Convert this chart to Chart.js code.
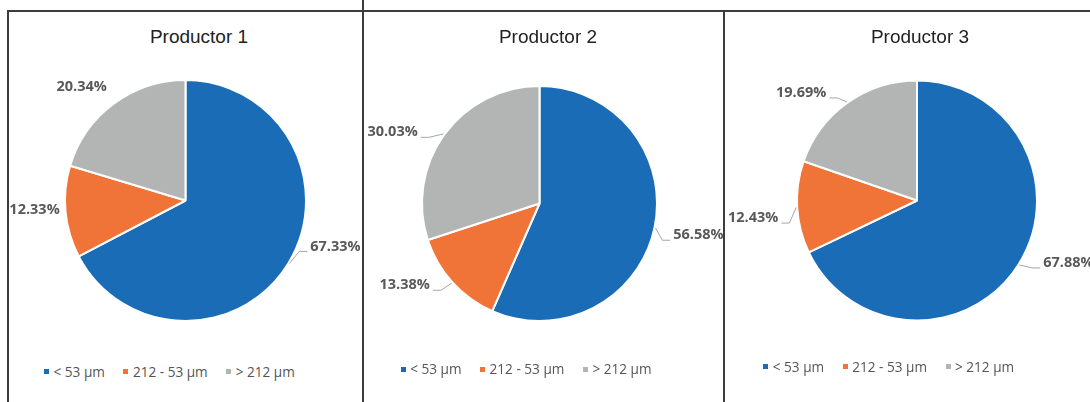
<!DOCTYPE html>
<html>
<head>
<meta charset="utf-8">
<script src="https://cdn.jsdelivr.net/npm/chart.js@4.4.1/dist/chart.umd.min.js"></script>
<style>
  html, body { margin: 0; padding: 0; background: #fff; }
  #stage { position: relative; width: 1090px; height: 402px; overflow: hidden; background: #fff; }
  .line { position: absolute; background: #3c3c3c; }
  canvas.pie { position: absolute; left: 0; top: 0; pointer-events: none; }
  .title { position: absolute; top: 27px; transform: translateX(-50%); font-family: "Liberation Sans", Arial, sans-serif;
           font-size: 19px; line-height: 20px; color: #222; white-space: nowrap; }
  .legend { position: absolute; display: flex; align-items: center; font-family: "Open Sans", sans-serif;
            font-size: 13.6px; line-height: 16px; color: #555; white-space: nowrap; }
  .legend .item { display: flex; align-items: center; margin-right: 18.5px; }
  .legend .sw { width: 5px; height: 5px; margin-right: 4.5px; }
</style>
</head>
<body>
<div id="stage">
  <div class="line" style="left:7px; top:10px; width:1083px; height:2px;"></div>
  <div class="line" style="left:7px; top:10px; width:2px; height:392px;"></div>
  <div class="line" style="left:362px; top:0px; width:2px; height:402px;"></div>
  <div class="line" style="left:723px; top:10px; width:2px; height:392px;"></div>
</div>
<script>
// ---- data ----
const categories = ['< 53 µm', '212 - 53 µm', '> 212 µm'];
const titles = ['Productor 1', 'Productor 2', 'Productor 3'];
const productor1 = [67.33, 12.33, 20.34];
const productor2 = [56.58, 13.38, 30.03];
const productor3 = [67.88, 12.43, 19.69];

// ---- styling / layout ----
const sliceColors = ['#1a6cb6', '#f07337', '#b3b5b5'];
const W = 1090, H = 402;
const panels = [
  { values: productor1, cx: 185.5, cy: 200.5, r: 120.5, titleX: 199, legendX: 44, legendY: 371.7,
    offsets: [[46, -17], [-30, -2], [-31.4, -15.8]], leaders: [true, false, false] },
  { values: productor2, cx: 539.5, cy: 203.5, r: 117.5, titleX: 548, legendX: 400.7, legendY: 369.3,
    offsets: [[43, 7.4], [-47, 2.2], [-51, -1.6]], leaders: [true, true, true] },
  { values: productor3, cx: 917, cy: 200.5, r: 120, titleX: 920, legendX: 763.3, legendY: 366.7,
    offsets: [[49, -2], [-43, 10.7], [-45.7, -9]], leaders: [true, true, true] }
];

const sliceLabels = {
  id: 'sliceLabels',
  afterDatasetsDraw(chart, args, opts) {
    const ctx = chart.ctx;
    const meta = chart.getDatasetMeta(0);
    const data = chart.data.datasets[0].data;
    ctx.save();
    ctx.font = 'bold 14.5px "Open Sans", sans-serif';
    ctx.textAlign = 'center';
    ctx.textBaseline = 'middle';
    meta.data.forEach((arc, i) => {
      const p = arc.getProps(['x', 'y', 'startAngle', 'endAngle', 'outerRadius'], true);
      const mid = (p.startAngle + p.endAngle) / 2;
      const ex = p.x + Math.cos(mid) * (p.outerRadius + 1);
      const ey = p.y + Math.sin(mid) * (p.outerRadius + 1);
      const off = opts.offsets[i];
      const lx = ex + off[0], ly = ey + off[1];
      const text = data[i].toFixed(2) + '%';
      const w = ctx.measureText(text).width;
      if (opts.leaders[i]) {
        const sign = off[0] < 0 ? 1 : -1;
        const sideX = lx + sign * (w / 2 + 3);
        const yy = ly + 5;
        const elbowX = sideX + sign * 8;
        ctx.strokeStyle = '#a6a6a6';
        ctx.lineWidth = 1;
        ctx.beginPath();
        ctx.moveTo(ex, ey);
        ctx.lineTo(elbowX, yy);
        ctx.lineTo(sideX, yy);
        ctx.stroke();
      }
      ctx.fillStyle = '#595959';
      ctx.fillText(text, lx, ly);
    });
    ctx.restore();
  }
};

function build() {
  const stage = document.getElementById('stage');
  panels.forEach((pn, k) => {
    const t = document.createElement('div');
    t.className = 'title';
    t.style.left = pn.titleX + 'px';
    t.textContent = titles[k];
    stage.appendChild(t);
    const lg = document.createElement('div');
    lg.className = 'legend';
    lg.style.left = pn.legendX + 'px';
    lg.style.top = (pn.legendY - 8) + 'px';
    categories.forEach((c, i) => {
      const it = document.createElement('div');
      it.className = 'item';
      const sw = document.createElement('span');
      sw.className = 'sw';
      sw.style.background = sliceColors[i];
      const tx = document.createElement('span');
      tx.textContent = c;
      it.appendChild(sw); it.appendChild(tx);
      lg.appendChild(it);
    });
    stage.appendChild(lg);
    const cv = document.createElement('canvas');
    cv.className = 'pie';
    cv.width = W; cv.height = H;
    cv.style.width = W + 'px'; cv.style.height = H + 'px';
    stage.appendChild(cv);
    new Chart(cv, {
      type: 'pie',
      data: {
        labels: categories,
        datasets: [{
          data: pn.values,
          backgroundColor: sliceColors,
          borderColor: '#ffffff',
          borderWidth: 2
        }]
      },
      options: {
        responsive: false,
        animation: false,
        events: [],
        radius: pn.r,
        layout: {
          padding: {
            left: pn.cx - pn.r - 4,
            right: W - pn.cx - pn.r - 4,
            top: pn.cy - pn.r - 4,
            bottom: H - pn.cy - pn.r - 4
          }
        },
        plugins: {
          legend: { display: false },
          title: { display: false },
          tooltip: { enabled: false },
          sliceLabels: { offsets: pn.offsets, leaders: pn.leaders }
        }
      },
      plugins: [sliceLabels]
    });
  });
}

Promise.all([
  document.fonts.load('bold 14.5px "Open Sans"'),
  document.fonts.load('13.6px "Open Sans"'),
  document.fonts.load('19px "Liberation Sans"')
]).catch(() => {}).then(build);
</script>
</body>
</html>
